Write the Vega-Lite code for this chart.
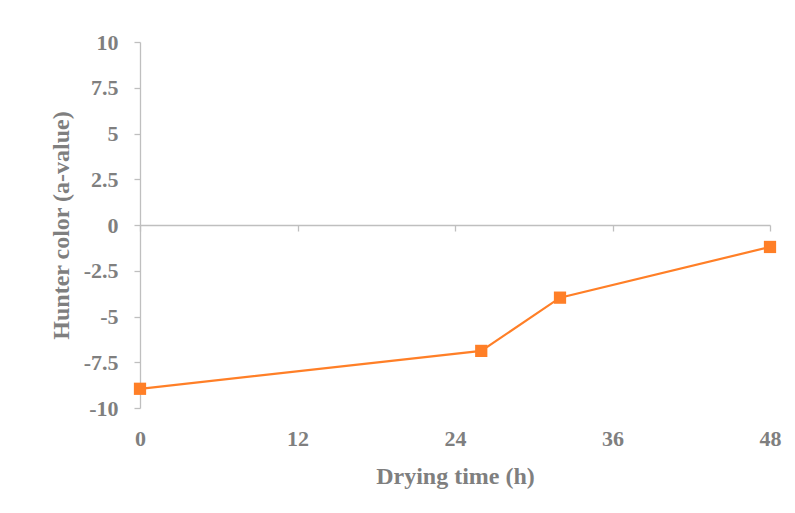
{
  "$schema": "https://vega.github.io/schema/vega-lite/v6.json",
  "autosize": {"type": "none"},
  "width": 630,
  "height": 366,
  "padding": {"left": 140, "top": 42, "right": 25, "bottom": 105},
  "background": "white",
  "config": {"view": {"stroke": null}},
  "data": {"values": [
    {"time": 0, "a": -8.95},
    {"time": 26, "a": -6.88},
    {"time": 32, "a": -3.97},
    {"time": 48, "a": -1.2}
  ]},
  "encoding": {
    "x": {"field": "time", "type": "quantitative", "scale": {"domain": [0, 48], "nice": false}},
    "y": {"field": "a", "type": "quantitative", "scale": {"domain": [-10, 10], "nice": false}}
  },
  "layer": [
    {
      "mark": {"type": "line", "color": "#FF7F27", "strokeWidth": 2.2},
      "encoding": {
        "x": {"field": "time", "type": "quantitative",
          "axis": {"values": [0, 12, 24, 36, 48], "domain": false, "ticks": false, "grid": false, "labelFlush": false,
            "labelPadding": 20, "labelFont": "Liberation Serif", "labelFontWeight": "bold", "labelFontSize": 22, "labelColor": "#7f7f7f",
            "title": "Drying time (h)", "titleFont": "Liberation Serif", "titleFontWeight": "bold", "titleFontSize": 24, "titleColor": "#7f7f7f", "titlePadding": 15}},
        "y": {"field": "a", "type": "quantitative",
          "axis": {"values": [-10, -7.5, -5, -2.5, 0, 2.5, 5, 7.5, 10], "labelExpr": "toString(datum.value)", "labelFlush": false,
            "domain": true, "domainColor": "#bfbfbf", "domainWidth": 1.3, "ticks": true, "tickColor": "#bfbfbf", "tickSize": 6, "tickWidth": 1.3, "grid": false,
            "labelPadding": 16, "labelFont": "Liberation Serif", "labelFontWeight": "bold", "labelFontSize": 22, "labelColor": "#7f7f7f",
            "title": "Hunter color (a-value)", "titleFont": "Liberation Serif", "titleFontWeight": "bold", "titleFontSize": 24, "titleColor": "#7f7f7f", "titlePadding": 10}}
      }
    },
    {
      "mark": {"type": "square", "color": "#FF7F27", "opacity": 1, "size": 150},
      "encoding": {
        "x": {"field": "time", "type": "quantitative",
          "axis": {"values": [0, 12, 24, 36, 48], "labels": false, "title": null, "grid": false, "offset": -183,
            "domain": true, "domainColor": "#bfbfbf", "domainWidth": 1.3, "ticks": true, "tickColor": "#bfbfbf", "tickSize": -6, "tickWidth": 1.3}}
      }
    }
  ],
  "resolve": {"axis": {"x": "independent"}}
}
